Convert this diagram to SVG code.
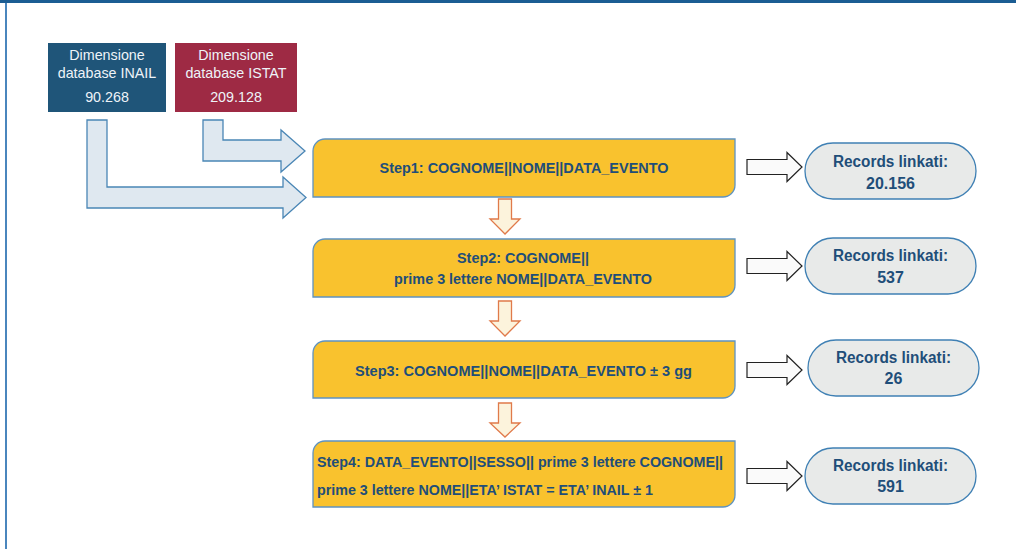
<svg xmlns="http://www.w3.org/2000/svg" width="1016" height="549" viewBox="0 0 1016 549">
<style>
.db{font-family:"Liberation Sans",Arial,sans-serif;font-size:14.3px;fill:#eef3f8;text-anchor:middle}
.st{fill:#f9c22e;stroke:#5e93c2;stroke-width:1.3}
.stt{font-family:"Liberation Sans",Arial,sans-serif;font-size:14.2px;font-weight:bold;fill:#1f4e79}
.pill{fill:#e8eae9;stroke:#3f80b4;stroke-width:1.3}
.pt{font-family:"Liberation Sans",Arial,sans-serif;font-size:16px;font-weight:bold;fill:#1f4e79;text-anchor:middle}
.bent{fill:#dfe8f0;stroke:#4a86b5;stroke-width:1.3}
.down{fill:#fcf3dc;stroke:#e07a4a;stroke-width:1.3}
.right{fill:#fafafa;stroke:#222;stroke-width:1.2}
</style>
<rect x="0" y="0" width="1016" height="549" fill="#fff"/>
<rect x="0" y="0" width="1016" height="3" fill="#1b5d93"/>
<rect x="5" y="3" width="2" height="546" fill="#4a86bd"/>

<g id="db-inail">
<rect x="48" y="43" width="118" height="69" fill="#1f5579"/>
<text class="db" x="107" y="60">Dimensione</text>
<text class="db" x="107" y="78">database INAIL</text>
<text class="db" x="107" y="102">90.268</text>
</g>
<g id="db-istat">
<rect x="175" y="43" width="122" height="69" fill="#9e2a44"/>
<text class="db" x="236" y="60">Dimensione</text>
<text class="db" x="236" y="78">database ISTAT</text>
<text class="db" x="236" y="102">209.128</text>
</g>

<g id="connectors">
<path class="bent" d="M87,120 H107 V187 H283 V177 L306,197.5 L283,218 V208 H87 Z"/>
<path class="bent" d="M203,120 H223 V140 H281 V130 L305,151 L281,172 V161 H203 Z"/>
<path class="down" d="M498.5,199 H511.5 V219 H520 L505,234 L490,219 H498.5 Z"/>
<path class="down" d="M498.5,301 H511.5 V321 H520 L505,336 L490,321 H498.5 Z"/>
<path class="down" d="M498.5,403 H511.5 V423 H520 L505,437 L490,423 H498.5 Z"/>
<path class="right" d="M747,159.5 H787 V152.5 L802,167 L787,181.5 V174.5 H747 Z"/>
<path class="right" d="M747,258.5 H787 V251.5 L802,266 L787,280.5 V273.5 H747 Z"/>
<path class="right" d="M747,362.5 H787 V355.5 L802,370 L787,384.5 V377.5 H747 Z"/>
<path class="right" d="M747,468.5 H787 V461.5 L802,476 L787,490.5 V483.5 H747 Z"/>
</g>

<g id="step1">
<path class="st" d="M313,151 A12,12 0 0 1 325,139 H735 V185 A12,12 0 0 1 723,197 H313 Z"/>
<text class="stt" x="524" y="173" text-anchor="middle" textLength="289" lengthAdjust="spacingAndGlyphs">Step1: COGNOME||NOME||DATA_EVENTO</text>
</g>
<g id="step2">
<path class="st" d="M313,251 A12,12 0 0 1 325,239 H735 V285 A12,12 0 0 1 723,297 H313 Z"/>
<text class="stt" x="523" y="263" text-anchor="middle" textLength="132" lengthAdjust="spacingAndGlyphs">Step2: COGNOME||</text>
<text class="stt" x="523" y="284" text-anchor="middle" textLength="258" lengthAdjust="spacingAndGlyphs">prime 3 lettere NOME||DATA_EVENTO</text>
</g>
<g id="step3">
<path class="st" d="M313,353 A12,12 0 0 1 325,341 H735 V386 A12,12 0 0 1 723,398 H313 Z"/>
<text class="stt" x="523.5" y="376" text-anchor="middle" textLength="337" lengthAdjust="spacingAndGlyphs">Step3: COGNOME||NOME||DATA_EVENTO ± 3 gg</text>
</g>
<g id="step4">
<path class="st" d="M313,453 A12,12 0 0 1 325,441 H735 V495 A12,12 0 0 1 723,507 H313 Z"/>
<text class="stt" x="317" y="467" textLength="406" lengthAdjust="spacingAndGlyphs">Step4: DATA_EVENTO||SESSO|| prime 3 lettere COGNOME||</text>
<text class="stt" x="317" y="495" textLength="336" lengthAdjust="spacingAndGlyphs">prime 3 lettere NOME||ETA’ ISTAT = ETA’ INAIL ± 1</text>
</g>

<g id="result1">
<rect class="pill" x="805" y="143" width="171" height="56" rx="28"/>
<text class="pt" x="890.5" y="167" textLength="115" lengthAdjust="spacingAndGlyphs">Records linkati:</text>
<text class="pt" x="890.5" y="189">20.156</text>
</g>
<g id="result2">
<rect class="pill" x="805" y="238" width="171" height="56" rx="28"/>
<text class="pt" x="890.5" y="261" textLength="115" lengthAdjust="spacingAndGlyphs">Records linkati:</text>
<text class="pt" x="890.5" y="283">537</text>
</g>
<g id="result3">
<rect class="pill" x="808" y="340" width="171" height="56" rx="28"/>
<text class="pt" x="893.5" y="363" textLength="115" lengthAdjust="spacingAndGlyphs">Records linkati:</text>
<text class="pt" x="893.5" y="384">26</text>
</g>
<g id="result4">
<rect class="pill" x="805" y="448" width="171" height="56" rx="28"/>
<text class="pt" x="890.5" y="471" textLength="115" lengthAdjust="spacingAndGlyphs">Records linkati:</text>
<text class="pt" x="890.5" y="492">591</text>
</g>
</svg>
